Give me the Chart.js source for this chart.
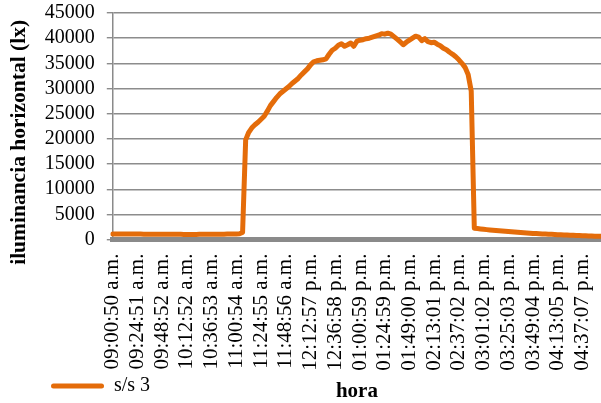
<!DOCTYPE html>
<html>
<head>
<meta charset="utf-8">
<script src="https://cdn.jsdelivr.net/npm/chart.js@4.4.1/dist/chart.umd.min.js"></script>
<style>
  html, body { margin: 0; padding: 0; background: #fff; }
  #wrap { width: 601px; height: 403px; }
</style>
</head>
<body>
<div id="wrap"><canvas id="grafico"></canvas></div>
<script>
// etiquetas del eje x (una cada 24 min aprox.)
const horas = [
  '09:00:50 a.m.', '09:24:51 a.m.', '09:48:52 a.m.', '10:12:52 a.m.', '10:36:53 a.m.',
  '11:00:54 a.m.', '11:24:55 a.m.', '11:48:56 a.m.', '12:12:57 p.m.', '12:36:58 p.m.',
  '01:00:59 p.m.', '01:24:59 p.m.', '01:49:00 p.m.', '02:13:01 p.m.', '02:37:02 p.m.',
  '03:01:02 p.m.', '03:25:03 p.m.', '03:49:04 p.m.', '04:13:05 p.m.', '04:37:07 p.m.'
];
const puntosPorEtiqueta = 8; // lecturas entre dos etiquetas

// iluminancia horizontal (lx), s/s 3
const iluminancia = [
  1100, 1100, 1110, 1110, 1100, 1100, 1090, 1090, 1080, 1080,
  1070, 1070, 1060, 1060, 1050, 1050, 1050, 1040, 1040, 1040,
  1030, 1030, 1030, 1020, 1020, 1020, 1020, 1020, 1030, 1030,
  1030, 1040, 1040, 1050, 1050, 1060, 1070, 1080, 1090, 1100,
  1120, 1150, 1400, 19800, 21300, 22200, 22800, 23300, 23900, 24500,
  25500, 26600, 27400, 28200, 28900, 29400, 29900, 30400, 31000, 31500,
  32000, 32700, 33300, 33900, 34700, 35300, 35500, 35600, 35700, 35900,
  36800, 37600, 38000, 38600, 38900, 38400, 38700, 39050, 38400, 39400,
  39600, 39700, 39900, 40000, 40200, 40400, 40600, 40900, 40800, 41000,
  40800, 40300, 39800, 39300, 38700, 39200, 39600, 40000, 40400, 40200,
  39500, 39900, 39300, 39100, 39200, 38800, 38500, 38000, 37700, 37200,
  36800, 36300, 35700, 35000, 34200, 32800, 29500, 2250, 2180, 2110,
  2040, 1970, 1900, 1840, 1780, 1730, 1680, 1630, 1590, 1540,
  1490, 1440, 1390, 1350, 1310, 1270, 1220, 1190, 1150, 1120,
  1090, 1060, 1030, 1000, 970, 940, 910, 880, 860, 830,
  810, 780, 760, 740, 710, 690, 670, 650, 630
];

const yTicks = [0, 5000, 10000, 15000, 20000, 25000, 30000, 35000, 40000, 45000];

const etiquetas = iluminancia.map((_, i) =>
  i % puntosPorEtiqueta === 0 && horas[i / puntosPorEtiqueta] ? horas[i / puntosPorEtiqueta] : '');

const fuente = '"Liberation Serif", "Times New Roman", serif';
Chart.defaults.font.family = fuente;
Chart.defaults.color = '#000';

// mueve la leyenda hacia la derecha como en el original
const moverLeyenda = {
  id: 'moverLeyenda',
  afterLayout(chart) {
    if (chart.legend) chart.legend.left = 46;
  }
};

function dibujar() {
  new Chart(document.getElementById('grafico'), {
    type: 'line',
    data: {
      labels: etiquetas,
      datasets: [{
        label: 's/s 3',
        data: iluminancia,
        borderColor: '#E46C0A',
        backgroundColor: '#E46C0A',
        borderWidth: 5,
        borderCapStyle: 'round',
        borderJoinStyle: 'round',
        pointRadius: 0,
        tension: 0
      }]
    },
    options: {
      responsive: true,
      maintainAspectRatio: false,
      animation: false,
      layout: { padding: { bottom: -3 } },
      plugins: {
        tooltip: { enabled: false },
        legend: {
          position: 'bottom',
          align: 'start',
          labels: {
            boxWidth: 53,
            boxHeight: 5,
            padding: 5,
            useBorderRadius: true,
            borderRadius: 2.5,
            font: { size: 20 },
            color: '#000',
            generateLabels: chart =>
              Chart.defaults.plugins.legend.labels.generateLabels(chart)
                .map(l => Object.assign(l, { lineWidth: 0 }))
          }
        }
      },
      scales: {
        x: {
          afterFit: s => { s.paddingLeft = 0; s.paddingRight = 0; },
          grid: { display: false, drawTicks: false },
          border: { color: '#8a8a8a', width: 5 },
          ticks: {
            autoSkip: false,
            minRotation: 90,
            maxRotation: 90,
            padding: 14,
            font: { size: 21 },
            color: '#000'
          },
          title: {
            display: true,
            text: 'hora',
            font: { size: 21, weight: 'bold' },
            color: '#000',
            padding: { top: -6, bottom: -33 }
          }
        },
        y: {
          min: 0,
          max: 45000,
          afterBuildTicks: axis => { axis.ticks = yTicks.map(v => ({ value: v })); },
          afterFit: s => { s.paddingTop = 13; },
          grid: { color: '#8c8c8c', lineWidth: 1.4, tickLength: 6 },
          border: { color: '#8a8a8a', width: 1.5 },
          ticks: {
            autoSkip: false,
            padding: 12,
            font: { size: 20 },
            color: '#000',
            callback: v => String(v)
          },
          title: {
            display: true,
            text: 'iluminancia horizontal (lx)      ',
            font: { size: 21.5, weight: 'bold' },
            color: '#000',
            padding: { top: 7, bottom: 0 }
          }
        }
      }
    },
    plugins: [moverLeyenda]
  });
}

// esperar a que la fuente esté lista para que las medidas sean correctas
Promise.all([
  document.fonts.load('20px "Liberation Serif"'),
  document.fonts.load('21px "Liberation Serif"'),
  document.fonts.load('bold 21px "Liberation Serif"')
]).then(dibujar, dibujar);
</script>
</body>
</html>
